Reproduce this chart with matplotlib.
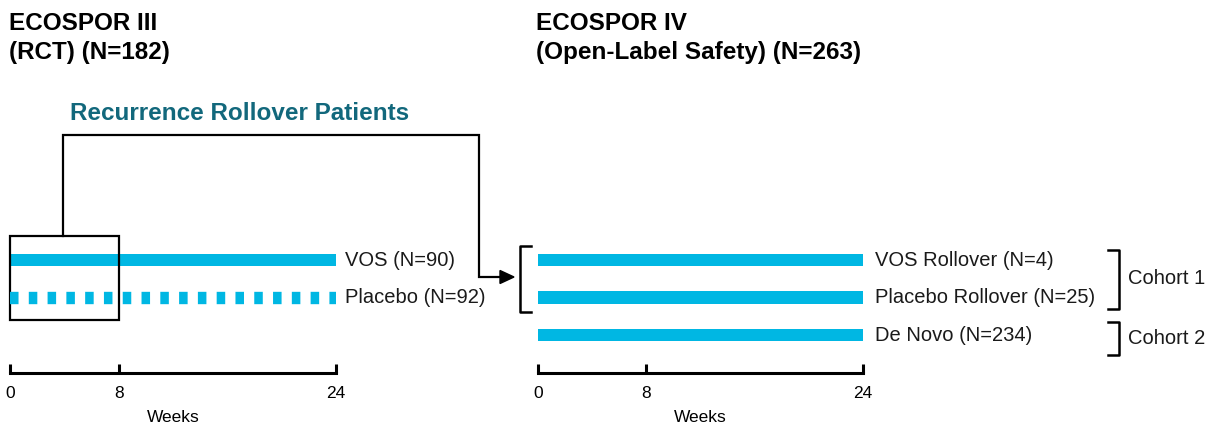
import matplotlib
matplotlib.use("Agg")
import matplotlib.pyplot as plt
from matplotlib.patches import Rectangle, Polygon

plt.rcParams['font.family'] = ['Liberation Sans', 'DejaVu Sans']

# ---- data ----
weeks_ticks = [0, 8, 24]
rct_arms = ["VOS (N=90)", "Placebo (N=92)"]
rct_duration = [24, 24]
rct_dashed = [False, True]
ol_arms = ["VOS Rollover (N=4)", "Placebo Rollover (N=25)", "De Novo (N=234)"]
ol_duration = [24, 24, 24]
cohorts = ["Cohort 1", "Cohort 2"]
rollover_window = 8
titles = ["ECOSPOR III\n(RCT) (N=182)", "ECOSPOR IV\n(Open-Label Safety) (N=263)"]
connector_label = "Recurrence Rollover Patients"

BAR = "#00B7E3"
TEAL = "#12687C"
W, H = 1209, 423
fig = plt.figure(figsize=(W / 100, H / 100), dpi=100)

def px_axes(x0, x1, y_top, y_bot):
    return fig.add_axes([x0 / W, 1 - y_bot / H, (x1 - x0) / W, (y_bot - y_top) / H])

ROW_TOP, ROW_BOT = -0.64, 3.013  # ylim for row index
BAR_H = 0.33
def setup(ax):
    ax.set_xlim(0, 24)
    ax.set_ylim(ROW_BOT, ROW_TOP)
    for s in ["top", "right", "left"]:
        ax.spines[s].set_visible(False)
    ax.spines["bottom"].set_linewidth(2.2)
    ax.set_yticks([])
    ax.set_xticks(weeks_ticks)
    ax.tick_params(axis="x", direction="in", length=6.5, width=2.2, pad=9, labelsize=12.5)
    ax.set_xlabel("Weeks", fontsize=12.5, labelpad=7)
    ax.patch.set_visible(False)

axL = px_axes(10, 336, 236, 373)
axR = px_axes(538, 863, 236, 373)
setup(axL)
setup(axR)

# left panel bars
for i, (lab, dur, dashed) in enumerate(zip(rct_arms, rct_duration, rct_dashed)):
    if dashed:
        ln, = axL.plot([0, dur], [i, i], color=BAR, lw=8.9, solid_capstyle="butt",
                       dash_capstyle="butt", clip_on=False)
        ln.set_dashes((0.69, 0.83))
    else:
        axL.barh(i, dur, height=BAR_H, color=BAR, clip_on=False)
    axL.text(dur + 0.65, i, lab, va="center", ha="left", fontsize=14.5, color="#1a1a1a")

# right panel bars
for i, (lab, dur) in enumerate(zip(ol_arms, ol_duration)):
    axR.barh(i, dur, height=BAR_H, color=BAR, clip_on=False)
    axR.text(dur + 0.85, i, lab, va="center", ha="left", fontsize=14.5, color="#1a1a1a")

# rollover box on left
axL.add_patch(Rectangle((0, ROW_TOP), rollover_window, 1.6 - ROW_TOP, fill=False,
                        ec="black", lw=1.6, clip_on=False))

# overlay for connectors
ov = fig.add_axes([0, 0, 1, 1])
ov.set_xlim(0, W)
ov.set_ylim(H, 0)
ov.axis("off")

ov.plot([63, 63, 479, 479, 502], [236, 135, 135, 277, 277], color="black", lw=1.6,
        solid_joinstyle="miter")
ov.add_patch(Polygon([[500, 270.5], [514, 277], [500, 283.5]], closed=True, color="black"))
# bracket around rollover arms
ov.plot([531, 520, 520, 531], [246, 246, 312, 312], color="black", lw=1.8)

# cohort brackets
ov.plot([1108, 1119, 1119, 1108], [250, 250, 309, 309], color="black", lw=1.8)
ov.plot([1108, 1119, 1119, 1108], [322, 322, 355, 355], color="black", lw=1.8)
ov.text(1128, 279, cohorts[0], va="center", ha="left", fontsize=14.5, color="#1a1a1a")
ov.text(1128, 338, cohorts[1], va="center", ha="left", fontsize=14.5, color="#1a1a1a")

# titles
ov.text(9, 38, titles[0], va="center", ha="left", fontsize=17.5, fontweight="bold",
        linespacing=1.3)
ov.text(536, 38, titles[1], va="center", ha="left", fontsize=17.5, fontweight="bold",
        linespacing=1.3)
ov.text(70, 113, connector_label, va="center", ha="left", fontsize=17.5,
        fontweight="bold", color=TEAL)

fig.savefig("out.png", dpi=100)
